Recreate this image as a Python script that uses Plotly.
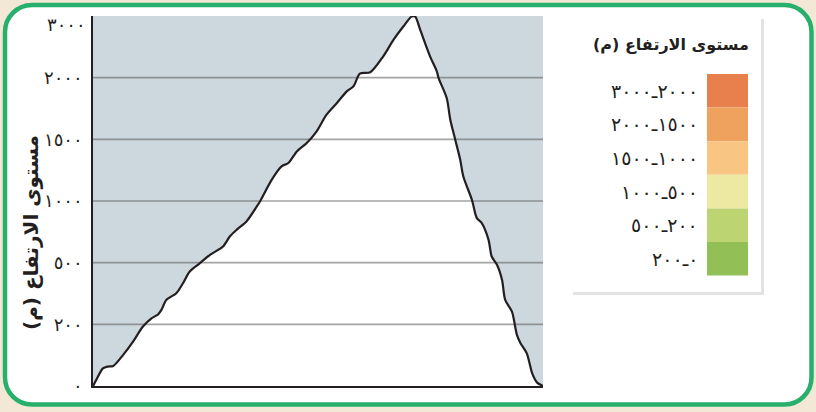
import numpy as np
import plotly.graph_objects as go

# ---------------- data ----------------
distance = [0, 0.7, 2.2, 3.3, 4.5, 6.7, 8.9, 11.1, 13.0, 14.5, 15.2, 16.3, 18.5, 20.0, 21.5,
            23.7, 26.0, 28.9, 30.4, 31.9, 34.1, 36.4, 37.1, 39.7, 41.9, 43.4, 45.3, 47.5, 49.7,
            51.9, 54.2, 56.4, 57.9, 59.3, 61.6, 64.5, 66.8, 69.0, 70.8, 71.6, 72.7, 74.9, 76.4,
            76.8, 78.6, 79.4, 80.5, 81.6, 82.3, 84.2, 85.3, 86.4, 87.9, 88.6, 89.8, 90.9, 91.6,
            93.1, 94.2, 95.0, 96.4, 97.6, 98.7, 100]
elevation = [0, 19, 57, 63, 65, 101, 144, 193, 229, 249, 270, 319, 351, 400, 457,
             497, 564, 631, 712, 766, 834, 956, 996, 1172, 1281, 1308, 1402, 1470, 1565,
             1700, 1795, 1889, 1930, 2065, 2087, 2346, 2617, 2833, 2990, 2990, 2779, 2346, 2103,
             1997, 1835, 1659, 1497, 1335, 1199, 1010, 861, 821, 685, 550, 489, 416, 319,
             262, 166, 139, 106, 41, 11, 0]

tick_values = [0, 200, 500, 1000, 1500, 2000, 3000]
tick_labels = ["٠", "٢٠٠", "٥٠٠", "١٠٠٠", "١٥٠٠", "٢٠٠٠", "٣٠٠٠"]

axis_title = "مستوى الارتفاع (م)\u200f"
legend_title = "مستوى الارتفاع (م)\u200f"
legend_labels = ["٢٠٠٠ـ٣٠٠٠", "١٥٠٠ـ٢٠٠٠", "١٠٠٠ـ١٥٠٠", "٥٠٠ـ١٠٠٠", "٢٠٠ـ٥٠٠", "٠ـ٢٠٠"]
legend_colors = ["#e8804d", "#eea25e", "#f8c682", "#eee9a2", "#bdd473", "#93c056"]

# ---------------- layout geometry ----------------
W, H = 816, 412
ML, MR, MT, MB = 93, 273, 16, 26
PW, PH = W - ML - MR, H - MT - MB


def xp(px):
    return (px - ML) / PW


def yp(py):
    return (H - MB - py) / PH


# elevation -> evenly spaced axis level (axis is piecewise, ticks equally spaced)
levels = list(range(len(tick_values)))
elev_level = np.interp(elevation, tick_values, levels)

fig = go.Figure()

# white terrain fill
fig.add_trace(go.Scatter(x=distance, y=elev_level, mode="lines",
                         line=dict(width=0, shape="spline", smoothing=0.8),
                         fill="tozeroy", fillcolor="white", hoverinfo="skip",
                         showlegend=False))

# gridlines (drawn over fill, under the profile line)
gx, gy = [], []
for lv in levels[1:-1]:
    gx += [0, 100, None]
    gy += [lv, lv, None]
fig.add_trace(go.Scatter(x=gx, y=gy, mode="lines",
                         line=dict(color="rgba(90,90,90,0.55)", width=1.6),
                         hoverinfo="skip", showlegend=False))

# profile line
fig.add_trace(go.Scatter(x=distance, y=elev_level, mode="lines",
                         line=dict(color="#231f20", width=2.2, shape="spline", smoothing=0.8),
                         hoverinfo="skip", showlegend=False))

shapes = []


def rounded_rect(x0, y0, x1, y1, r):
    k = 0.5523 * r
    pts = [
        f"M {xp(x0 + r)} {yp(y0)}",
        f"L {xp(x1 - r)} {yp(y0)}",
        f"C {xp(x1 - r + k)} {yp(y0)} {xp(x1)} {yp(y0 + r - k)} {xp(x1)} {yp(y0 + r)}",
        f"L {xp(x1)} {yp(y1 - r)}",
        f"C {xp(x1)} {yp(y1 - r + k)} {xp(x1 - r + k)} {yp(y1)} {xp(x1 - r)} {yp(y1)}",
        f"L {xp(x0 + r)} {yp(y1)}",
        f"C {xp(x0 + r - k)} {yp(y1)} {xp(x0)} {yp(y1 - r + k)} {xp(x0)} {yp(y1 - r)}",
        f"L {xp(x0)} {yp(y0 + r)}",
        f"C {xp(x0)} {yp(y0 + r - k)} {xp(x0 + r - k)} {yp(y0)} {xp(x0 + r)} {yp(y0)}",
        "Z",
    ]
    return " ".join(pts)


# rounded frame
shapes.append(dict(type="path", xref="paper", yref="paper", layer="below",
                   path=rounded_rect(5, 5, 811.5, 404.5, 27),
                   fillcolor="white", line=dict(color="#27b06b", width=4.5)))

# plot background (blue-gray sky)
shapes.append(dict(type="rect", xref="paper", yref="paper", layer="below",
                   x0=0, x1=1, y0=0, y1=1, fillcolor="#cdd8de", line=dict(width=0)))

# legend box with soft shadow
shapes.append(dict(type="rect", xref="paper", yref="paper", layer="below",
                   x0=xp(573), x1=xp(764), y0=yp(295), y1=yp(19),
                   fillcolor="#e3e3e3", line=dict(width=0)))
shapes.append(dict(type="rect", xref="paper", yref="paper", layer="below",
                   x0=xp(571), x1=xp(761), y0=yp(292), y1=yp(17),
                   fillcolor="white", line=dict(width=0)))

annotations = []
box_top, box_h = 74, 33.6
for i, (lab, col) in enumerate(zip(legend_labels, legend_colors)):
    t = box_top + i * box_h
    shapes.append(dict(type="rect", xref="paper", yref="paper", layer="below",
                       x0=xp(707), x1=xp(748), y0=yp(t + box_h), y1=yp(t),
                       fillcolor=col, line=dict(width=0)))
    annotations.append(dict(xref="paper", yref="paper", x=xp(700), y=yp(t + box_h / 2),
                            xanchor="right", yanchor="middle", showarrow=False,
                            text=lab, font=dict(family="DejaVu Sans", size=19, color="#231f20")))

annotations.append(dict(xref="paper", yref="paper", x=xp(751), y=yp(45),
                        xanchor="right", yanchor="middle", showarrow=False,
                        text="<b>" + legend_title + "</b>",
                        font=dict(family="DejaVu Sans", size=16, color="#231f20")))

annotations.append(dict(xref="paper", yref="paper", x=xp(31), y=yp(233),
                        xanchor="center", yanchor="middle", showarrow=False, textangle=-90,
                        text="<b>" + axis_title + "</b>",
                        font=dict(family="DejaVu Sans", size=20, color="#231f20")))

# top tick label sits a little below the frame top in the original
tick_text_axis = tick_labels[:-1] + [""]
annotations.append(dict(xref="paper", yref="paper", x=xp(88), y=yp(25),
                        xanchor="right", yanchor="middle", showarrow=False,
                        text=tick_labels[-1],
                        font=dict(family="DejaVu Sans", size=18, color="#231f20")))

fig.update_layout(
    width=W, height=H,
    margin=dict(l=ML, r=MR, t=MT, b=MB, pad=0),
    paper_bgcolor="#f3e8d6",
    plot_bgcolor="rgba(0,0,0,0)",
    shapes=shapes,
    annotations=annotations,
    showlegend=False,
    xaxis=dict(range=[0, 100], showgrid=False, zeroline=False, showticklabels=False,
               ticks="", showline=True, linecolor="#231f20", linewidth=2, fixedrange=True),
    yaxis=dict(range=[0, 6], tickvals=levels, ticktext=tick_text_axis, showgrid=False,
               zeroline=False, ticks="", showline=True, linecolor="#231f20", linewidth=1.5,
               ticklabelstandoff=5,
               tickfont=dict(family="DejaVu Sans", size=18, color="#231f20"), fixedrange=True),
)

fig.write_html("out.html", config=dict(displayModeBar=False),
               post_script="document.body.style.margin='0';document.body.style.padding='0';")
